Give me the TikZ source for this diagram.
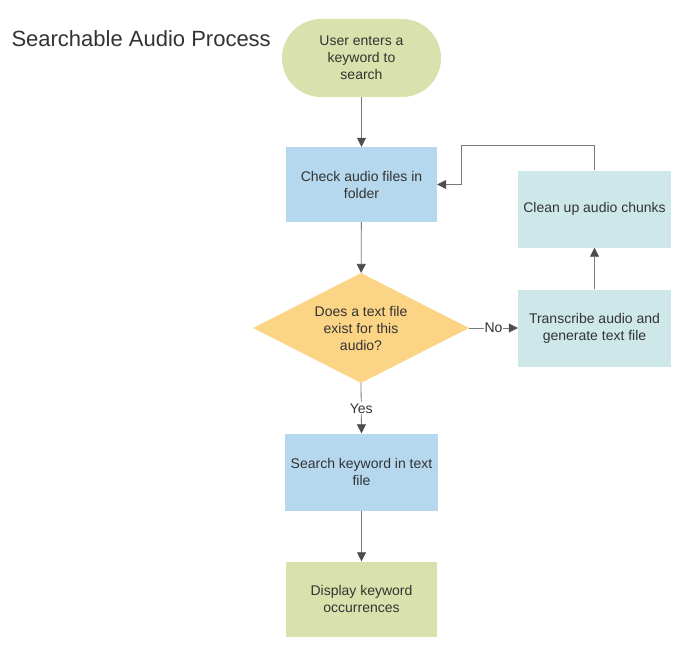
\documentclass[tikz,border=0pt]{standalone}
\usepackage{fontspec}
\setmainfont{Liberation Sans}
\usepackage{tikz}
\usetikzlibrary{positioning,arrows.meta,shapes.geometric}

\definecolor{termgreen}{RGB}{217,226,172}
\definecolor{procblue}{RGB}{181,216,238}
\definecolor{decyellow}{RGB}{252,212,134}
\definecolor{sidecyan}{RGB}{206,232,234}
\definecolor{txtgray}{RGB}{51,51,51}
\definecolor{linegray}{RGB}{120,120,120}
\definecolor{tipgray}{RGB}{77,77,77}

\begin{document}
\begin{tikzpicture}[x=1pt, y=-1pt,
    every node/.style={text=txtgray, font=\fontsize{14}{17}\selectfont},
    proc/.style={minimum width=151pt, minimum height=75pt, align=center, inner sep=2pt},
    term/.style={rounded corners=39pt, fill=termgreen, minimum width=159pt, minimum height=78pt, align=center},
    decide/.style={diamond, fill=decyellow, minimum width=216pt, minimum height=110pt, aspect=2, inner sep=0pt, align=center},
    connect/.style={-{Triangle[length=9pt, width=9pt, color=tipgray]}, line width=0.8pt, linegray},
    lbl/.style={fill=white, inner sep=1pt},
]
  \useasboundingbox (0,0) rectangle (684,650);

  \node[font=\fontsize{22}{26}\selectfont, anchor=west] (title) at (8, 38.5) {Searchable Audio Process};

  \node[term] (start) at (361.5, 58) {User enters a\\keyword to\\search};
  \node[proc, fill=procblue] (check) at (361.5, 184.5) {Check audio files in\\folder};
  \node[decide] (exists) at (361, 328) {Does a text file\\exist for this\\audio?};
  \node[proc, fill=sidecyan, minimum width=153pt, minimum height=77pt] (transcribe) at (594.5, 328) {Transcribe audio and\\generate text file};
  \node[proc, fill=sidecyan, minimum width=153pt, minimum height=77pt] (cleanup) at (594.5, 209) {Clean up audio chunks};
  \node[proc, fill=procblue, minimum width=153pt, minimum height=77pt] (search) at (361.5, 472) {Search keyword in text\\file};
  \node[proc, fill=termgreen] (display) at (361.5, 599) {Display keyword\\occurrences};

  \coordinate (loop) at (461, 145);

  \draw[connect] (start) -- (check);
  \draw[connect] (check) -- (exists);
  \draw[connect] (exists.east) -- node[lbl] {No} (transcribe.west);
  \draw[connect] (transcribe) -- (cleanup);
  \draw[connect] (cleanup.north) |- (loop) |- (check.east);
  \draw[connect] (exists.south) -- node[lbl] {Yes} (search.north);
  \draw[connect] (search) -- (display);
\end{tikzpicture}
\end{document}
